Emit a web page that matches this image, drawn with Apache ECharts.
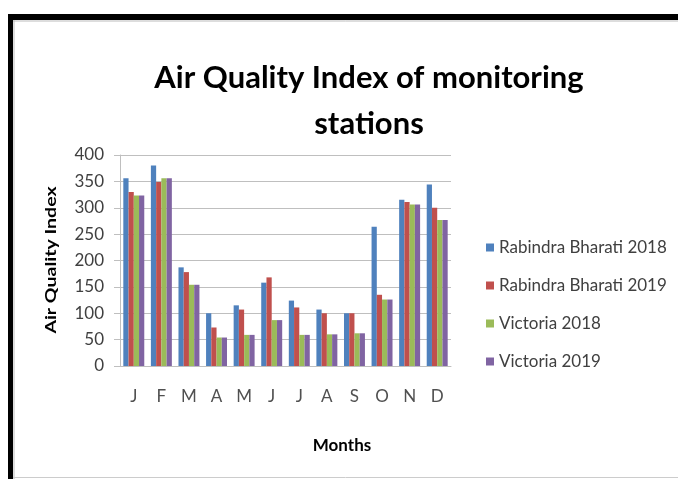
<!DOCTYPE html>
<html>
<head>
<meta charset="utf-8">
<script src="https://cdn.jsdelivr.net/npm/echarts@6/dist/echarts.min.js"></script>
<style>
html, body { margin: 0; padding: 0; background: #fff; }
#chart { width: 678px; height: 479px; }
</style>
</head>
<body>
<div id="chart"></div>
<script>
// data
var months = ['J', 'F', 'M', 'A', 'M', 'J', 'J', 'A', 'S', 'O', 'N', 'D'];
var rb2018 = [356, 380, 187, 100, 115, 158, 124, 107, 100, 264, 315, 344];
var rb2019 = [330, 349, 178, 73, 107, 168, 111, 100, 100, 135, 311, 300];
var vic2018 = [323, 356, 154, 54, 59, 87, 59, 60, 62, 126, 306, 277];
var vic2019 = [323, 356, 154, 54, 59, 87, 59, 60, 62, 126, 306, 277];

var chart = echarts.init(document.getElementById('chart'));

function bar(name, data, color) {
    return {
        name: name,
        type: 'bar',
        data: data,
        barGap: '0%',
        barCategoryGap: '24%',
        itemStyle: { color: color }
    };
}

var option = {
    animation: false,
    title: {
        text: 'Air Quality Index of monitoring\nstations',
        left: 364,
        top: 50,
        textAlign: 'center',
        textStyle: {
            fontFamily: 'Lato',
            fontWeight: 'bold',
            fontSize: 31,
            lineHeight: 46,
            color: '#000'
        }
    },
    legend: {
        orient: 'vertical',
        left: 481,
        top: 234,
        itemWidth: 8,
        itemHeight: 8,
        itemGap: 21,
        icon: 'rect',
        textStyle: { fontFamily: 'Lato', fontSize: 17, color: '#404040' },
        data: ['Rabindra Bharati 2018', 'Rabindra Bharati 2019', 'Victoria 2018', 'Victoria 2019']
    },
    grid: { left: 120, right: 227, top: 155, bottom: 113 },
    xAxis: {
        type: 'category',
        data: months,
        axisLine: { lineStyle: { color: '#bfbfbf' } },
        axisTick: { show: false },
        axisLabel: { margin: 22, fontFamily: 'Lato', fontSize: 17, color: '#505050' }
    },
    yAxis: {
        type: 'value',
        min: 0,
        max: 400,
        interval: 50,
        axisLine: { show: true, lineStyle: { color: '#bfbfbf' } },
        axisTick: { show: true, length: 6, lineStyle: { color: '#bfbfbf' } },
        axisLabel: { margin: 16, fontFamily: 'Lato', fontSize: 17, color: '#404040' },
        splitLine: { lineStyle: { color: '#bfbfbf' } }
    },
    graphic: [
        { type: 'rect', shape: { x: 8, y: 14, width: 670, height: 6 }, style: { fill: '#000' } },
        { type: 'rect', shape: { x: 8, y: 14, width: 5, height: 465 }, style: { fill: '#000' } },
        { type: 'line', shape: { x1: 13, y1: 21, x2: 678, y2: 21 }, style: { stroke: '#bbb', lineWidth: 1 } },
        { type: 'line', shape: { x1: 14, y1: 20, x2: 14, y2: 479 }, style: { stroke: '#bbb', lineWidth: 1 } },
        { type: 'line', shape: { x1: 13, y1: 477.5, x2: 678, y2: 477.5 }, style: { stroke: '#ccc', lineWidth: 1 } },
        // y axis title, stretched like the source picture
        {
            type: 'text',
            x: 51,
            y: 260,
            rotation: Math.PI / 2,
            scaleX: 1.3,
            style: {
                text: 'Air Quality Index',
                font: 'bold 15px Lato',
                fill: '#000',
                textAlign: 'center',
                textVerticalAlign: 'middle',
                align: 'center',
                verticalAlign: 'middle'
            }
        },
        // x axis title sits right of the plot centre in the source
        {
            type: 'text',
            x: 342,
            y: 446,
            style: {
                text: 'Months',
                font: 'bold 17px Lato',
                fill: '#000',
                textAlign: 'center',
                textVerticalAlign: 'middle',
                align: 'center',
                verticalAlign: 'middle'
            }
        }
    ],
    series: [
        bar('Rabindra Bharati 2018', rb2018, '#4F81BD'),
        bar('Rabindra Bharati 2019', rb2019, '#C0504D'),
        bar('Victoria 2018', vic2018, '#9BBB59'),
        bar('Victoria 2019', vic2019, '#8064A2')
    ]
};

chart.setOption(option);
window.addEventListener('resize', function() {
    chart.resize();
});
</script>
</body>
</html>
